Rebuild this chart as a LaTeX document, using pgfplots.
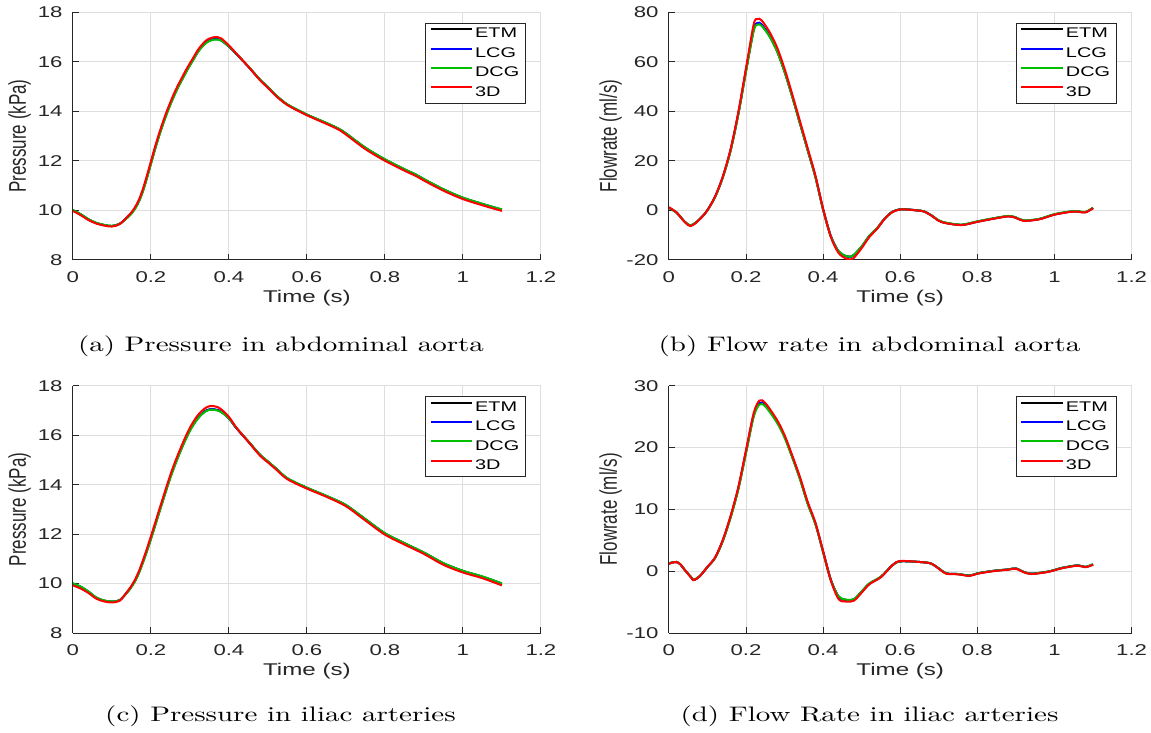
\documentclass[border=0pt]{standalone}
\usepackage{fontspec}
\usepackage{graphicx}
\usepackage{pgfplots}
\usepackage{pgfplotstable}
\pgfplotsset{compat=1.18}

\newfontfamily\hv{Liberation Sans}
\definecolor{axgray}{rgb}{0.15,0.15,0.15}
\definecolor{gridgray}{rgb}{0.87,0.87,0.87}
\definecolor{mgreen}{rgb}{0,0.75,0}

% the source figure is stretched sideways, so is its text
\newcommand\sx[1]{\scalebox{1.42}[1]{#1}}
\newcommand\sy[1]{\scalebox{1}[1.42]{#1}}
\newcommand\scap[1]{\scalebox{1.38}[1]{#1}}

% abdominal aorta, pressure (kPa)
\pgfplotstableread{
t     etm   lcg   dcg   d3
0     10.00 10.00 10.01 9.97
0.02  9.83  9.83  9.84  9.80
0.04  9.63  9.63  9.64  9.60
0.06  9.48  9.48  9.49  9.46
0.08  9.40  9.40  9.41  9.38
0.10  9.36  9.36  9.37  9.34
0.12  9.45  9.45  9.45  9.44
0.14  9.72  9.72  9.70  9.74
0.15  9.88  9.88  9.86  9.91
0.16  10.10 10.10 10.07 10.14
0.17  10.40 10.40 10.37 10.45
0.18  10.82 10.82 10.78 10.88
0.19  11.34 11.34 11.30 11.41
0.20  11.90 11.90 11.86 11.97
0.21  12.46 12.46 12.42 12.53
0.22  12.98 12.98 12.94 13.05
0.23  13.46 13.46 13.42 13.53
0.24  13.90 13.90 13.86 13.97
0.25  14.30 14.30 14.26 14.37
0.26  14.67 14.67 14.63 14.74
0.27  15.00 15.00 14.97 15.07
0.28  15.30 15.30 15.27 15.37
0.29  15.60 15.60 15.57 15.67
0.30  15.87 15.87 15.85 15.94
0.31  16.13 16.13 16.11 16.20
0.32  16.40 16.40 16.38 16.47
0.33  16.60 16.60 16.58 16.67
0.34  16.76 16.76 16.74 16.84
0.35  16.86 16.86 16.84 16.94
0.36  16.91 16.91 16.89 16.99
0.37  16.92 16.92 16.90 17.00
0.38  16.87 16.87 16.86 16.95
0.40  16.62 16.62 16.62 16.66
0.42  16.30 16.30 16.31 16.32
0.45  15.80 15.80 15.81 15.80
0.48  15.27 15.27 15.28 15.25
0.50  14.97 14.97 14.98 14.95
0.52  14.65 14.65 14.66 14.63
0.55  14.27 14.27 14.28 14.25
0.60  13.86 13.86 13.87 13.84
0.65  13.52 13.52 13.53 13.49
0.68  13.30 13.30 13.31 13.27
0.70  13.10 13.10 13.11 13.06
0.75  12.52 12.52 12.53 12.47
0.80  12.05 12.05 12.06 12.00
0.85  11.65 11.65 11.66 11.60
0.88  11.43 11.43 11.44 11.38
0.90  11.25 11.25 11.26 11.20
0.95  10.84 10.84 10.85 10.79
1.00  10.50 10.50 10.51 10.45
1.05  10.25 10.25 10.26 10.20
1.10  10.02 10.02 10.03 9.97
}\dataA

% abdominal aorta, flow rate (ml/s)
\pgfplotstableread{
t     etm    lcg    dcg    d3
0     1.0    1.0    1.0    1.2
0.02  -1.0   -1.0   -1.0   -0.9
0.04  -4.5   -4.5   -4.5   -4.6
0.055 -6.2   -6.2   -6.1   -6.4
0.07  -5.0   -5.0   -4.9   -5.1
0.09  -2.0   -2.0   -2.0   -2.0
0.10  0.0    0.0    0.0    0.0
0.12  5.5    5.5    5.4    5.6
0.14  13.5   13.5   13.3   13.7
0.16  24.3   24.3   24.0   24.7
0.18  39.0   39.0   38.6   39.6
0.20  56.5   56.6   56.0   57.5
0.22  73.0   73.3   72.6   75.2
0.23  75.3   75.7   75.0   77.3
0.24  74.8   75.2   74.6   76.8
0.26  70.6   70.9   70.5   72.3
0.28  64.5   64.7   64.4   66.0
0.30  56.0   56.1   55.9   57.2
0.32  45.9   46.0   45.8   46.8
0.34  35.1   35.2   35.0   35.9
0.36  24.3   24.3   24.1   25.0
0.38  13.5   13.5   13.3   14.0
0.40  0.3    0.3    0.1    0.5
0.42  -10.5  -10.5  -10.6  -10.8
0.44  -16.6  -16.7  -16.6  -17.3
0.46  -18.6  -18.7  -18.6  -19.6
0.47  -18.8  -18.9  -18.8  -19.9
0.48  -18.0  -18.1  -18.0  -19.2
0.50  -14.7  -14.7  -14.6  -15.3
0.52  -10.4  -10.4  -10.3  -10.8
0.54  -7.3   -7.3   -7.2   -7.5
0.56  -3.3   -3.3   -3.3   -3.4
0.58  -0.6   -0.6   -0.6   -0.7
0.60  0.35   0.35   0.35   0.3
0.62  0.3    0.3    0.3    0.25
0.64  0.0    0.0    0.0    -0.05
0.66  -0.4   -0.4   -0.4   -0.45
0.68  -2.0   -2.0   -2.0   -2.1
0.70  -4.2   -4.2   -4.1   -4.3
0.72  -5.2   -5.2   -5.1   -5.3
0.76  -5.9   -5.9   -5.8   -6.0
0.80  -4.6   -4.6   -4.5   -4.7
0.84  -3.4   -3.4   -3.3   -3.5
0.88  -2.4   -2.4   -2.3   -2.5
0.90  -3.0   -3.0   -2.9   -3.1
0.92  -4.2   -4.2   -4.1   -4.3
0.96  -3.6   -3.6   -3.5   -3.7
1.00  -1.7   -1.7   -1.6   -1.8
1.04  -0.6   -0.6   -0.5   -0.7
1.06  -0.5   -0.5   -0.4   -0.6
1.08  -0.8   -0.8   -0.7   -0.9
1.10  0.9    0.9    1.0    0.8
}\dataB

% iliac arteries, pressure (kPa)
\pgfplotstableread{
t     etm   lcg   dcg   d3
0     10.00 10.00 10.01 9.93
0.02  9.87  9.87  9.88  9.80
0.04  9.67  9.67  9.68  9.62
0.06  9.43  9.43  9.44  9.39
0.08  9.31  9.31  9.32  9.28
0.10  9.27  9.27  9.28  9.24
0.12  9.33  9.33  9.33  9.31
0.14  9.67  9.67  9.65  9.69
0.15  9.88  9.88  9.86  9.91
0.16  10.14 10.14 10.11 10.18
0.17  10.48 10.48 10.45 10.53
0.18  10.90 10.90 10.86 10.96
0.19  11.35 11.35 11.31 11.42
0.20  11.83 11.83 11.79 11.91
0.21  12.33 12.33 12.29 12.41
0.22  12.84 12.84 12.80 12.92
0.23  13.34 13.34 13.30 13.42
0.24  13.84 13.84 13.80 13.92
0.25  14.32 14.32 14.28 14.40
0.26  14.75 14.75 14.71 14.84
0.27  15.15 15.15 15.12 15.24
0.28  15.53 15.53 15.50 15.62
0.29  15.88 15.88 15.85 15.98
0.30  16.20 16.20 16.17 16.30
0.31  16.46 16.46 16.44 16.57
0.32  16.68 16.68 16.66 16.80
0.33  16.85 16.85 16.83 16.97
0.34  16.98 16.98 16.96 17.10
0.35  17.04 17.04 17.02 17.17
0.36  17.05 17.05 17.03 17.18
0.37  17.02 17.02 17.00 17.14
0.38  16.95 16.95 16.94 17.05
0.40  16.68 16.68 16.68 16.74
0.42  16.27 16.27 16.28 16.29
0.45  15.74 15.74 15.75 15.73
0.48  15.20 15.20 15.21 15.17
0.50  14.93 14.93 14.94 14.90
0.52  14.66 14.66 14.67 14.63
0.55  14.25 14.25 14.26 14.22
0.60  13.87 13.87 13.88 13.84
0.65  13.54 13.54 13.55 13.51
0.70  13.17 13.17 13.18 13.13
0.75  12.60 12.60 12.61 12.55
0.80  12.03 12.03 12.04 11.98
0.85  11.63 11.63 11.64 11.58
0.90  11.25 11.25 11.26 11.20
0.95  10.82 10.82 10.83 10.76
1.00  10.51 10.51 10.52 10.45
1.05  10.28 10.28 10.29 10.22
1.10  10.00 10.00 10.01 9.93
}\dataC

% iliac arteries, flow rate (ml/s)
\pgfplotstableread{
t     etm    lcg    dcg    d3
0     1.25   1.25   1.25   1.2
0.01  1.45   1.45   1.45   1.4
0.02  1.50   1.50   1.50   1.5
0.03  1.10   1.10   1.10   1.1
0.04  0.30   0.30   0.30   0.3
0.06  -1.15  -1.15  -1.10  -1.2
0.065 -1.40  -1.40  -1.35  -1.45
0.08  -0.80  -0.80  -0.80  -0.8
0.10  0.70   0.70   0.70   0.7
0.12  2.20   2.20   2.15   2.25
0.14  5.00   5.00   4.90   5.1
0.16  8.80   8.80   8.65   8.95
0.18  13.40  13.40  13.20  13.6
0.20  19.30  19.35  19.10  19.6
0.22  25.20  25.30  25.00  25.6
0.235 27.10  27.20  26.95  27.6
0.25  26.80  26.90  26.65  27.2
0.28  24.20  24.25  24.05  24.5
0.30  21.75  21.80  21.60  22.0
0.32  18.50  18.50  18.35  18.7
0.34  15.00  15.00  14.85  15.2
0.36  11.00  11.00  10.85  11.2
0.38  7.70   7.70   7.60   7.85
0.40  3.15   3.15   3.05   3.2
0.42  -1.40  -1.40  -1.45  -1.5
0.44  -4.10  -4.10  -4.05  -4.5
0.46  -4.65  -4.65  -4.60  -4.9
0.48  -4.55  -4.55  -4.50  -4.75
0.50  -3.30  -3.30  -3.25  -3.45
0.52  -2.00  -2.00  -1.95  -2.1
0.55  -0.90  -0.90  -0.85  -0.95
0.58  1.00   1.00   1.00   1.0
0.60  1.60   1.60   1.60   1.65
0.65  1.50   1.50   1.50   1.5
0.68  1.25   1.25   1.25   1.25
0.70  0.45   0.45   0.45   0.4
0.72  -0.35  -0.35  -0.35  -0.4
0.75  -0.45  -0.45  -0.45  -0.5
0.78  -0.70  -0.70  -0.70  -0.75
0.80  -0.35  -0.35  -0.35  -0.4
0.84  0.05   0.05   0.05   0.0
0.88  0.30   0.30   0.30   0.25
0.90  0.45   0.45   0.45   0.4
0.92  -0.10  -0.10  -0.10  -0.15
0.94  -0.40  -0.40  -0.40  -0.45
0.98  -0.10  -0.10  -0.10  -0.15
1.00  0.20   0.20   0.20   0.15
1.02  0.55   0.55   0.55   0.5
1.06  0.95   0.95   0.95   0.9
1.08  0.70   0.70   0.70   0.65
1.10  1.10   1.10   1.15   1.05
}\dataD

\pgfplotsset{
  panel/.style 2 args={
    scale only axis, width=#1, height=123.7pt,
    xmin=0, xmax=1.2,
    xtick={0,0.2,0.4,0.6,0.8,1,1.2},
    xticklabels={\sx{0},\sx{0.2},\sx{0.4},\sx{0.6},\sx{0.8},\sx{1},\sx{1.2}},
    axis x line*=bottom, axis y line*=left,
    axis line style={axgray, line width=0.5pt},
    tick style={axgray, line width=0.5pt},
    tick align=inside, major tick length=3pt,
    grid=major, major grid style={gridgray, line width=0.5pt},
    tick label style={font=\hv\fontsize{7.8}{9}\selectfont, inner sep=0pt, text=axgray},
    xticklabel style={anchor=north, yshift=-5.7pt},
    yticklabel style={anchor=east, xshift=-5pt},
    every axis x label/.style={at={(axis description cs:0.5,0)}, anchor=center,
      yshift=-19.2pt, font=\hv\fontsize{8.5}{10}\selectfont, text=axgray},
    every axis y label/.style={at={(axis description cs:0,0.5)}, xshift=-#2,
      rotate=90, anchor=center, font=\hv\fontsize{8.5}{10}\selectfont, text=axgray},
    xlabel={\sx{Time (s)}},
    legend style={at={(axis description cs:0.9677,0.958)}, anchor=north east,
      draw=axgray, line width=0.5pt, fill=white,
      inner xsep=2pt, inner ysep=2.2pt, row sep=3pt,
      font=\hv\fontsize{7}{8}\selectfont,
      nodes={inner xsep=1pt, inner ysep=0pt, text height=5.2pt, text depth=1.5pt},
      cells={anchor=west}},
    legend image code/.code={\draw[##1] (0pt,2.5pt) -- (20.8pt,2.5pt);},
    every axis plot/.append style={line width=1pt, smooth},
  }
}

\begin{document}
\begin{tikzpicture}
\useasboundingbox (0pt,0pt) rectangle (575.5pt,-366.5pt);

% (a)
\begin{axis}[panel={234pt}{26.6pt}, at={(36.45pt,-6.15pt)}, anchor=north west,
  ymin=8, ymax=18, ytick={8,10,12,14,16,18},
  yticklabels={\sx{8},\sx{10},\sx{12},\sx{14},\sx{16},\sx{18}},
  ylabel={\sy{Pressure (kPa)}}]
\addplot[black] table[x=t, y=etm] {\dataA}; \addlegendentry{\sx{ETM}}
\addplot[blue] table[x=t, y=lcg] {\dataA}; \addlegendentry{\sx{LCG}}
\addplot[mgreen] table[x=t, y=dcg] {\dataA}; \addlegendentry{\sx{DCG}}
\addplot[red] table[x=t, y=d3] {\dataA}; \addlegendentry{\sx{3D}}
\end{axis}

% (b)
\begin{axis}[panel={231.35pt}{29.2pt}, at={(334.45pt,-6.15pt)}, anchor=north west,
  ymin=-20, ymax=80, ytick={-20,0,20,40,60,80},
  yticklabels={\sx{-20},\sx{0},\sx{20},\sx{40},\sx{60},\sx{80}},
  ylabel={\sy{Flowrate (ml/s)}}]
\addplot[black] table[x=t, y=etm] {\dataB}; \addlegendentry{\sx{ETM}}
\addplot[blue] table[x=t, y=lcg] {\dataB}; \addlegendentry{\sx{LCG}}
\addplot[mgreen] table[x=t, y=dcg] {\dataB}; \addlegendentry{\sx{DCG}}
\addplot[red] table[x=t, y=d3] {\dataB}; \addlegendentry{\sx{3D}}
\end{axis}

% (c)
\begin{axis}[panel={234pt}{26.6pt}, at={(36.45pt,-192.85pt)}, anchor=north west,
  ymin=8, ymax=18, ytick={8,10,12,14,16,18},
  yticklabels={\sx{8},\sx{10},\sx{12},\sx{14},\sx{16},\sx{18}},
  ylabel={\sy{Pressure (kPa)}}]
\addplot[black] table[x=t, y=etm] {\dataC}; \addlegendentry{\sx{ETM}}
\addplot[blue] table[x=t, y=lcg] {\dataC}; \addlegendentry{\sx{LCG}}
\addplot[mgreen] table[x=t, y=dcg] {\dataC}; \addlegendentry{\sx{DCG}}
\addplot[red] table[x=t, y=d3] {\dataC}; \addlegendentry{\sx{3D}}
\end{axis}

% (d)
\begin{axis}[panel={231.35pt}{29.2pt}, at={(334.45pt,-192.85pt)}, anchor=north west,
  ymin=-10, ymax=30, ytick={-10,0,10,20,30},
  yticklabels={\sx{-10},\sx{0},\sx{10},\sx{20},\sx{30}},
  ylabel={\sy{Flowrate (ml/s)}}]
\addplot[black] table[x=t, y=etm] {\dataD}; \addlegendentry{\sx{ETM}}
\addplot[blue] table[x=t, y=lcg] {\dataD}; \addlegendentry{\sx{LCG}}
\addplot[mgreen] table[x=t, y=dcg] {\dataD}; \addlegendentry{\sx{DCG}}
\addplot[red] table[x=t, y=d3] {\dataD}; \addlegendentry{\sx{3D}}
\end{axis}

% subfigure captions
\begin{scope}[every node/.style={anchor=base, inner sep=0pt, font=\fontsize{10.5}{12}\selectfont}]
\node at (140.5pt,-175.5pt) {\scap{(a) Pressure in abdominal aorta}};
\node at (434.75pt,-175.5pt) {\scap{(b) Flow rate in abdominal aorta}};
\node at (140.25pt,-360.5pt) {\scap{(c) Pressure in iliac arteries}};
\node at (434.75pt,-360.5pt) {\scap{(d) Flow Rate in iliac arteries}};
\end{scope}
\end{tikzpicture}
\end{document}
